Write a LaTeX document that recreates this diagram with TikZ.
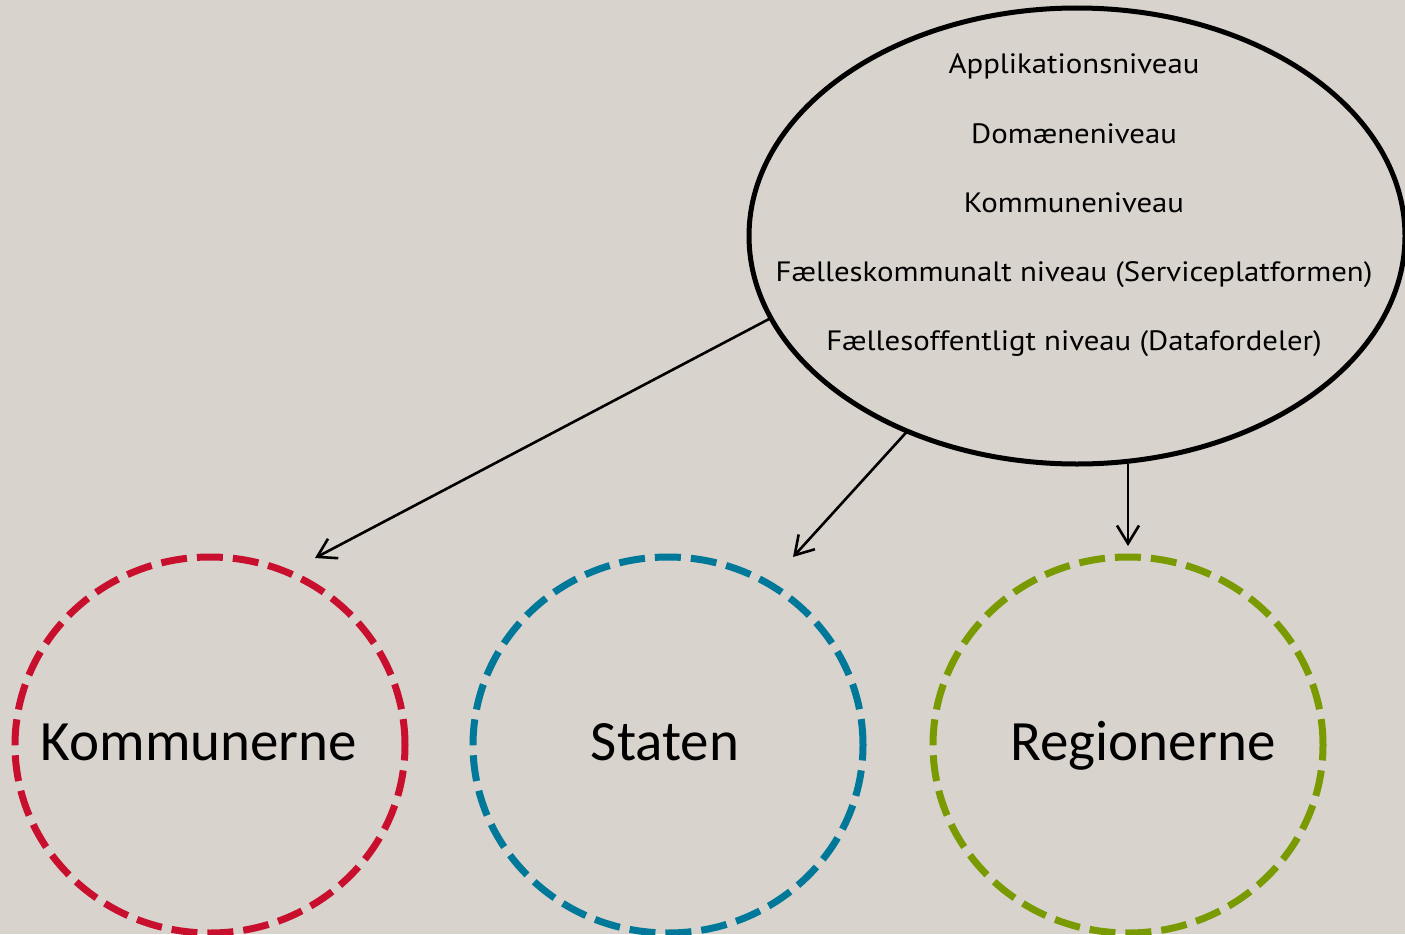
\documentclass[tikz,border=0pt]{standalone}
\usepackage{fontspec}
\setmainfont{PT Sans}
\newfontfamily\bigfont{Carlito}
\usetikzlibrary{shapes.geometric,arrows.meta}
\definecolor{bg}{RGB}{216,211,205}
\definecolor{cred}{RGB}{200,16,46}
\definecolor{cblue}{RGB}{0,120,154}
\definecolor{cgreen}{RGB}{122,154,1}
\newcommand{\lvltext}[1]{\scalebox{1.1}[1]{#1}}
\tikzset{
  topell/.style={draw=black, ellipse, line width=5pt, minimum width=656pt, minimum height=456pt, inner sep=0pt, outer sep=0pt},
  ring/.style={ellipse, line width=7pt, dash pattern=on 26pt off 10pt, minimum width=390pt, minimum height=376pt, inner sep=0pt},
  lvl/.style={font=\fontsize{28pt}{32pt}\selectfont, inner sep=0pt, anchor=base},
  biglbl/.style={font=\bigfont\fontsize{57pt}{62pt}\selectfont, inner sep=0pt, anchor=base},
  arr/.style={line width=2.6pt, -{Straight Barb[length=18pt,width=22pt,line width=2.6pt]}}
}
\begin{document}
\begin{tikzpicture}[x=1pt,y=-1pt]
\fill[bg] (0,0) rectangle (1405,934);
\useasboundingbox (0,0) rectangle (1405,934);
\node[topell] (top) at (1077,236) {};
\node[lvl] (l1) at (1074,74) {\lvltext{Applikationsniveau}};
\node[lvl] (l2) at (1074,143) {\lvltext{Domæneniveau}};
\node[lvl] (l3) at (1074,212) {\lvltext{Kommuneniveau}};
\node[lvl] (l4) at (1074,281) {\lvltext{Fælleskommunalt niveau (Serviceplatformen)}};
\node[lvl] (l5) at (1074,350) {\lvltext{Fællesoffentligt niveau (Datafordeler)}};
\node[ring, draw=cred] (k) at (210,745) {};
\node[ring, draw=cblue] (s) at (668,745) {};
\node[ring, draw=cgreen] (r) at (1128,745) {};
\node[biglbl] (kt) at (199,760) {Kommunerne};
\node[biglbl] (st) at (665,760) {Staten};
\node[biglbl] (rt) at (1143,760) {Regionerne};
\coordinate (ka) at (315,558);
\coordinate (sa) at (793,557);
\coordinate (ra) at (1128,546);
\draw[arr] (top.195.6) -- (ka);
\draw[arr] (top.229.6) -- (sa);
\draw[arr] (top.south -| ra) -- (ra);
\end{tikzpicture}
\end{document}
